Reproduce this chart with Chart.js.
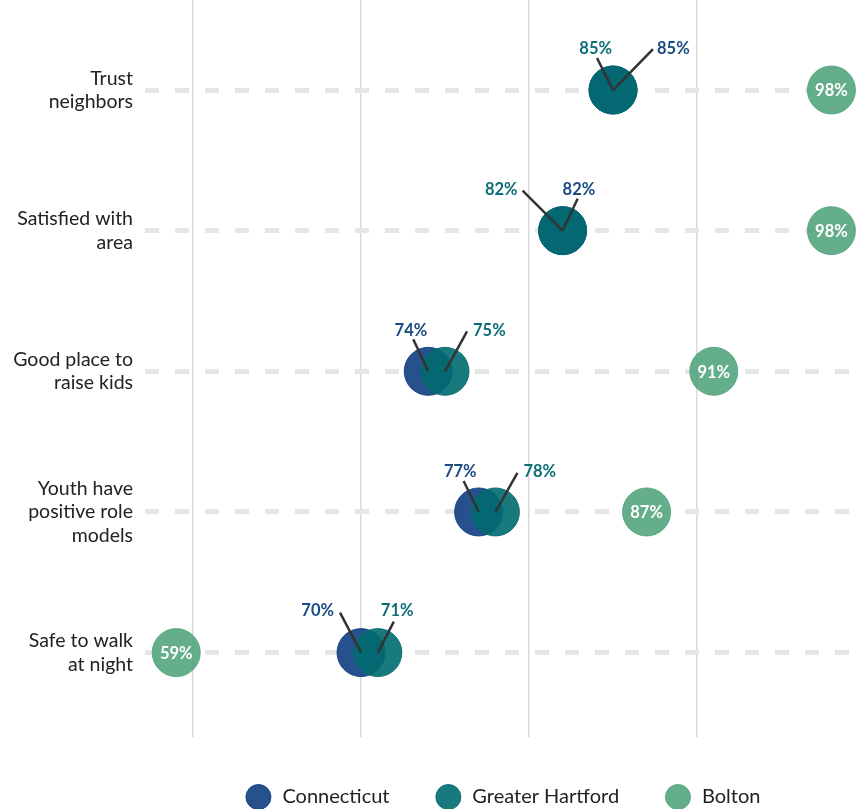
<!DOCTYPE html>
<html>
<head>
<meta charset="utf-8">
<script src="https://cdn.jsdelivr.net/npm/chart.js@4.4.1/dist/chart.umd.min.js"></script>
<style>
  html, body { margin: 0; padding: 0; background: #fff; }
  #wrap { width: 865px; height: 809px; }
</style>
</head>
<body>
<div id="wrap"><canvas id="chart"></canvas></div>
<script>
// ---------- data ----------
const CATEGORIES = [
  ['Trust', 'neighbors'],
  ['Satisfied with', 'area'],
  ['Good place to', 'raise kids'],
  ['Youth have', 'positive role', 'models'],
  ['Safe to walk', 'at night'],
];
const SERIES = ['Connecticut', 'Greater Hartford', 'Bolton'];
const CONNECTICUT = [85, 82, 74, 77, 70];
const GREATER_HARTFORD = [85, 82, 75, 78, 71];
const BOLTON = [98, 98, 91, 87, 59];
const X_GRID = [60, 70, 80, 90];

// ---------- style ----------
const FONT = 'Lato, "Open Sans", sans-serif';
Chart.defaults.font.family = FONT;
Chart.defaults.animation = false;

const COL = {
  ct: 'rgba(14,62,128,0.9)',
  gh: 'rgba(0,107,112,0.9)',
  bo: 'rgba(78,162,122,0.87)',
  ctText: '#1a4a82',
  ghText: '#0b6e76',
};

// leader line end (lx, ly) and text anchor (tx, ty), offsets from point centre in px
const CT_LABEL = [
  { lx: 40, ly: -41, tx: 44, ty: -41, align: 'left' },
  { lx: 15, ly: -32, tx: 0, ty: -41, align: 'left' },
  { lx: -15, ly: -32, tx: -1, ty: -41, align: 'right' },
  { lx: -15, ly: -31, tx: -2, ty: -40, align: 'right' },
  { lx: -21, ly: -40, tx: -27, ty: -42, align: 'right' },
];
const GH_LABEL = [
  { lx: -16, ly: -32, tx: -1, ty: -41, align: 'right' },
  { lx: -40, ly: -40, tx: -45, ty: -41, align: 'right' },
  { lx: 22, ly: -40, tx: 28, ty: -41, align: 'left' },
  { lx: 22, ly: -39, tx: 28, ty: -40, align: 'left' },
  { lx: 16, ly: -31, tx: 3, ty: -42, align: 'left' },
];

const rowY = (i) => CATEGORIES.length - i;
const toPoints = (arr) => arr.map((v, i) => ({ x: v, y: rowY(i) }));

const labelPlugin = {
  id: 'pointLabels',
  afterLayout(chart) {
    // centre the legend under the plot area rather than the whole canvas
    if (chart.legend) chart.legend.left = chart.chartArea.left;
  },
  afterDatasetsDraw(chart) {
    const ctx = chart.ctx;
    ctx.save();
    // leader lines + outside labels for Connecticut / Greater Hartford
    [[0, CT_LABEL, COL.ctText, CONNECTICUT], [1, GH_LABEL, COL.ghText, GREATER_HARTFORD]].forEach(([di, pos, color, vals]) => {
      chart.getDatasetMeta(di).data.forEach((pt, j) => {
        const p = pos[j];
        ctx.strokeStyle = '#333';
        ctx.lineWidth = 2.5;
        ctx.beginPath();
        ctx.moveTo(pt.x, pt.y);
        ctx.lineTo(pt.x + p.lx, pt.y + p.ly);
        ctx.stroke();
        ctx.fillStyle = color;
        ctx.font = 'bold 16.5px ' + FONT;
        ctx.textAlign = p.align;
        ctx.textBaseline = 'middle';
        ctx.fillText(vals[j] + '%', pt.x + p.tx, pt.y + p.ty);
      });
    });
    // Bolton labels inside circles
    chart.getDatasetMeta(2).data.forEach((pt, j) => {
      ctx.fillStyle = '#fff';
      ctx.font = 'bold 16.5px ' + FONT;
      ctx.textAlign = 'center';
      ctx.textBaseline = 'middle';
      ctx.fillText(BOLTON[j] + '%', pt.x, pt.y + 1);
    });
    ctx.restore();
  }
};

new Chart(document.getElementById('chart'), {
  type: 'scatter',
  data: {
    datasets: [
      { label: SERIES[0], data: toPoints(CONNECTICUT), backgroundColor: COL.ct, borderColor: COL.ct, borderWidth: 1, pointRadius: 24, pointHoverRadius: 24, order: 3 },
      { label: SERIES[1], data: toPoints(GREATER_HARTFORD), backgroundColor: COL.gh, borderColor: COL.gh, borderWidth: 1, pointRadius: 24, pointHoverRadius: 24, order: 2 },
      { label: SERIES[2], data: toPoints(BOLTON), backgroundColor: COL.bo, borderColor: COL.bo, borderWidth: 1, pointRadius: 24, pointHoverRadius: 24, order: 1 },
    ]
  },
  options: {
    responsive: true, maintainAspectRatio: false,
    layout: { autoPadding: false, padding: { top: 0, right: 0, bottom: -8, left: 0 } },
    plugins: {
      tooltip: { enabled: false },
      legend: {
        position: 'bottom',
        labels: {
          usePointStyle: true, pointStyle: 'circle',
          boxWidth: 17.7, boxHeight: 17.7,
          color: '#222', font: { size: 20 }, padding: 50,
          sort: (a, b) => a.datasetIndex - b.datasetIndex,
          generateLabels: (chart) => Chart.defaults.plugins.legend.labels.generateLabels(chart)
            .map(l => Object.assign(l, { text: ' ' + l.text })),
        }
      }
    },
    scales: {
      x: {
        type: 'linear', min: 57.14, max: 100,
        afterBuildTicks: (s) => { s.ticks = X_GRID.map(v => ({ value: v })); },
        ticks: { display: false },
        grid: { color: '#d9d9d9', lineWidth: 1.5, drawTicks: false },
        border: { display: false },
      },
      y: {
        type: 'linear', min: 0.4, max: 5.64,
        afterBuildTicks: (s) => { s.ticks = CATEGORIES.map((c, i) => ({ value: rowY(i) })); },
        afterFit: (s) => { s.width = 145; s.paddingTop = 0; s.paddingBottom = 0; },
        ticks: {
          padding: 12, color: '#222', font: { size: 19.5 },
          callback: (v) => CATEGORIES[CATEGORIES.length - v],
        },
        grid: { color: '#e6e6e6', lineWidth: 5, drawTicks: false },
        border: { display: false, dash: [14, 16] },
      }
    }
  },
  plugins: [labelPlugin]
});
</script>
</body>
</html>
